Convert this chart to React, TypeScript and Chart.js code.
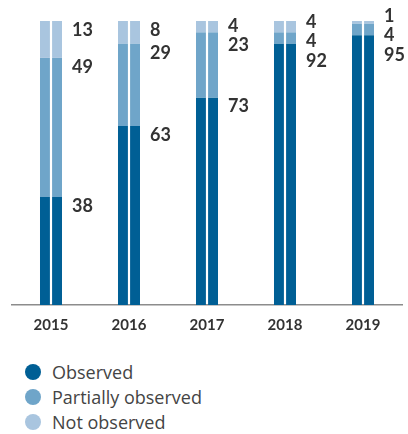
import React, { useEffect, useRef } from "react";
import { Chart, registerables } from "chart.js";

Chart.register(...registerables);

const years = ["2015", "2016", "2017", "2018", "2019"];
const observed = [38, 63, 73, 92, 95];
const partiallyObserved = [49, 29, 23, 4, 4];
const notObserved = [13, 8, 4, 4, 1];

const seriesNames = ["Observed", "Partially observed", "Not observed"];
const seriesColors = ["#005f95", "#6fa5c9", "#a9c5df"];

const labelPlugin = {
  id: "sideLabels",
  afterDatasetsDraw(chart: any) {
    const ctx = chart.ctx;
    const values = [observed, partiallyObserved, notObserved];
    const gap = 19.5;
    years.forEach((_, i) => {
      const items: { d: number; text: string; x: number }[] = [];
      for (let s = 2; s >= 0; s--) {
        const el = chart.getDatasetMeta(3 + s).data[i] as any;
        const top = Math.min(el.y, el.base);
        items.push({ d: top + 9, text: String(values[s][i]), x: el.x + el.width / 2 + 10 });
      }
      const clusters: { ds: number[]; start: number; top: number }[] = [];
      items.forEach((it, k) => {
        clusters.push({ ds: [it.d], start: k, top: it.d });
        while (clusters.length > 1) {
          const cur = clusters[clusters.length - 1];
          const prev = clusters[clusters.length - 2];
          if (prev.top + prev.ds.length * gap > cur.top) {
            const ds = prev.ds.concat(cur.ds);
            let sum = 0;
            ds.forEach((d, j) => (sum += d - j * gap));
            clusters.splice(clusters.length - 2, 2, { ds, start: prev.start, top: sum / ds.length });
          } else break;
        }
      });
      ctx.save();
      ctx.font = "bold 18px Lato";
      ctx.fillStyle = "#333333";
      ctx.textBaseline = "middle";
      ctx.textAlign = "left";
      clusters.forEach((c) => {
        c.ds.forEach((_, j) => {
          const it = items[c.start + j];
          ctx.fillText(it.text, it.x, c.top + j * gap);
        });
      });
      ctx.restore();
    });
  },
};

export default function App() {
  const ref = useRef<HTMLCanvasElement>(null);
  useEffect(() => {
    document.body.style.margin = "0";
    const values = [observed, partiallyObserved, notObserved];
    const datasets: any[] = [];
    ["L", "R"].forEach((stack) => {
      values.forEach((v, s) => {
        datasets.push({
          label: seriesNames[s],
          data: v,
          backgroundColor: seriesColors[s],
          stack,
          borderWidth: 0,
          categoryPercentage: 0.31,
          barPercentage: 0.82,
        });
      });
    });
    const chart = new Chart(ref.current!, {
      type: "bar",
      data: { labels: years, datasets },
      options: {
        responsive: false,
        animation: false,
        layout: { padding: { left: 12, right: 6, top: 21, bottom: 0 } },
        plugins: { legend: { display: false }, tooltip: { enabled: false } },
        scales: {
          x: {
            stacked: true,
            grid: { display: false, drawTicks: false },
            border: { display: true, color: "#8c8c8c", width: 1.5 },
            ticks: { color: "#333333", font: { family: "Lato", size: 15, weight: "bold" }, padding: 11 },
            afterFit: (scale: any) => {
              scale.height = 35;
            },
          },
          y: { stacked: true, display: false, min: 0, max: 100 },
        },
      },
      plugins: [labelPlugin],
    });
    return () => chart.destroy();
  }, []);

  return (
    <div style={{ position: "relative", width: 408, height: 434, fontFamily: "'Open Sans'" }}>
      <canvas ref={ref} width={408} height={340} style={{ display: "block" }} />
      <div style={{ position: "absolute", left: 25, top: 359 }}>
        {seriesNames.map((n, s) => (
          <div key={n} style={{ display: "flex", alignItems: "center", height: 25, fontSize: 18, color: "#444" }}>
            <span
              style={{
                width: 16,
                height: 16,
                borderRadius: 8,
                background: seriesColors[s],
                display: "inline-block",
                marginRight: 11,
                flexShrink: 0,
              }}
            />
            {n}
          </div>
        ))}
      </div>
    </div>
  );
}
